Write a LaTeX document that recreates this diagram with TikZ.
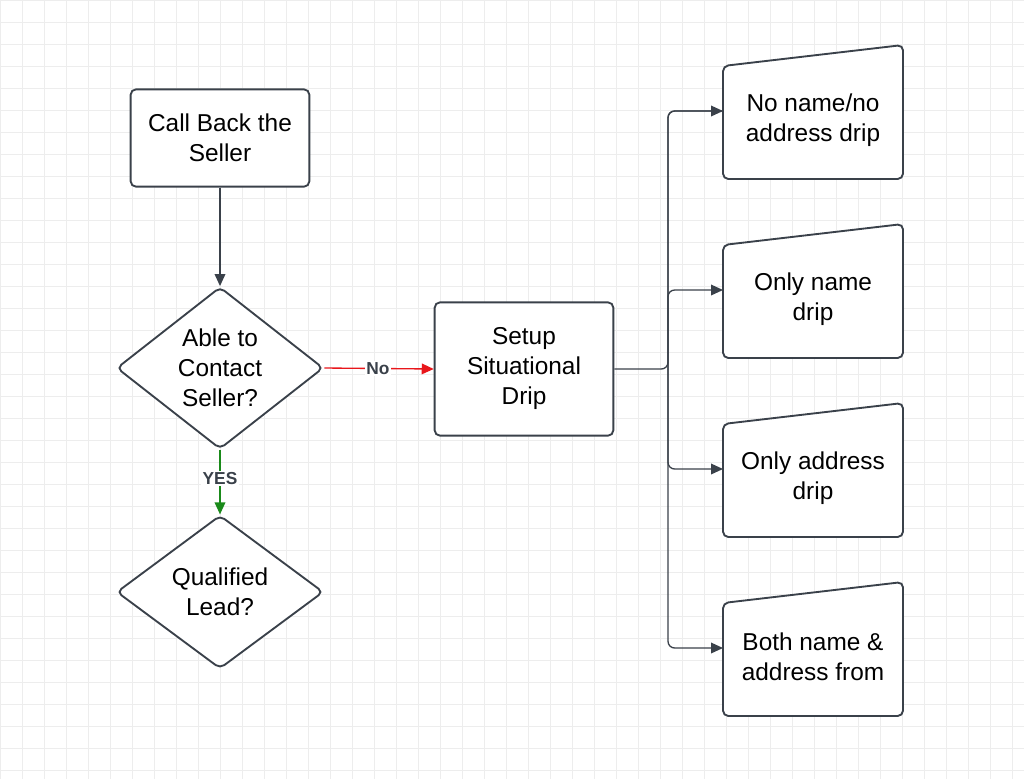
\documentclass[tikz,border=0pt]{standalone}
\usepackage{fontspec}
\setmainfont{Liberation Sans}
\usetikzlibrary{arrows.meta, shapes.geometric, positioning}
\definecolor{edge}{HTML}{3A414A}
\definecolor{gridc}{HTML}{EDEDED}
\definecolor{yesg}{HTML}{1A8A1A}
\definecolor{nored}{HTML}{E8161B}
\tikzset{
  box/.style={draw=edge, line width=1.4pt, rounded corners=4pt, fill=white, minimum width=134pt, align=center, font=\fontsize{18.3}{22.5}\selectfont},
  dec/.style={draw=edge, line width=1.4pt, diamond, rounded corners=4pt, fill=white, minimum width=155pt, minimum height=115pt, inner sep=0pt, align=center, font=\fontsize{18.3}{22.5}\selectfont},
  txt/.style={align=center, font=\fontsize{18.3}{22.5}\selectfont},
  conn/.style={draw=edge, line width=1pt, -{Triangle[length=9pt,width=8pt]}},
  lbl/.style={fill=white, inner sep=1pt, font=\bfseries\fontsize{13}{15}\selectfont, text=edge}
}
\begin{document}
\begin{tikzpicture}[x=0.75pt, y=-0.75pt]
		\useasboundingbox (0,0) rectangle (1024,779);
		% Grid
		\foreach \i in {0,22,...,1024} \draw[gridc, line width=0.6pt] (\i,0) -- (\i,779);
		\foreach \j in {0,22,...,779} \draw[gridc, line width=0.6pt] (0,\j) -- (1024,\j);
		
		% Main column
		\node[box, minimum height=73pt] (call) at (220,138) {Call Back the\\Seller};
		\node[dec] (able) at (220,368) {Able to\\Contact\\Seller?};
		\node[dec] (qual) at (220,592) {Qualified\\Lead?};
		\node[box, minimum height=100pt] (setup) at (524,369) {Setup\\Situational\\Drip};
		
		% Drip boxes
		\foreach \n/\yt/\txt in {nn/45/{No name/no\\address drip}, on/224/{Only name\\drip}, oa/403/{Only address\\drip}, bn/582/{Both name \&\\address from}}{
			\draw[draw=edge, line width=1.4pt, fill=white, rounded corners=4pt]
				(723,\yt+21) -- (903,\yt) -- (903,\yt+134) -- (723,\yt+134) -- cycle;
			\node[txt] (\n) at (813,\yt+75) {\txt};
			\coordinate (\n-in) at (723,\yt+66);
		}
		\coordinate (trunk) at (668,369);
		
		% Connectors
		\draw[conn] (call) -- (able);
		\draw[conn, draw=nored, -{Triangle[length=9pt,width=8pt,fill=nored]}] (able.east) -- (setup.west)
			node[lbl, pos=0.49] {No};
		\draw[conn, draw=yesg, -{Triangle[length=9pt,width=8pt,fill=yesg]}] (able.south) -- (qual.north)
			node[lbl, text=edge, pos=0.45] {YES};
		\draw[draw=edge, line width=1pt, rounded corners=5pt] (setup.east) -- (trunk) |- (nn-in);
		\foreach \n in {nn,on,oa,bn}
			\draw[conn, rounded corners=5pt] (trunk) |- (\n-in);
	\end{tikzpicture}
\end{document}
